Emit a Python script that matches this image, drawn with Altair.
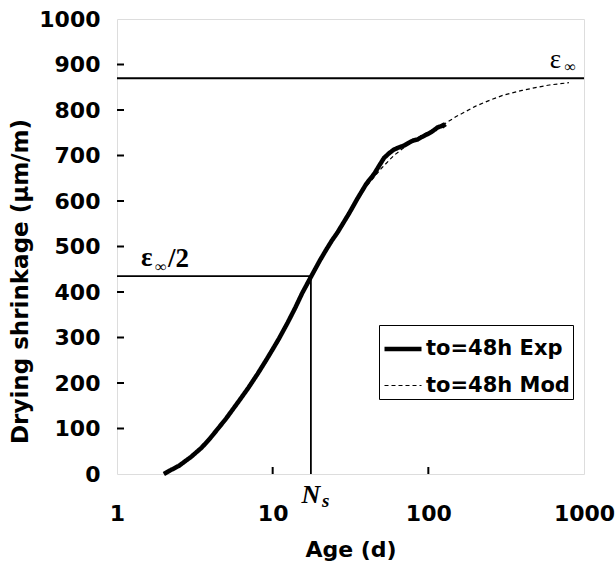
import altair as alt
import pandas as pd

# ---- data ----
exp_t = [2.0, 2.2, 2.5, 3.0, 3.5, 4.0, 5.0, 6.0, 7.0, 8.0, 9.0, 10.0, 11.0, 12.5, 14.0, 15.5,
         17.6, 20.0, 22.0, 24.0, 26.0, 28.0, 31.0, 35.0, 40.0, 45.0, 48.0, 52.0, 56.0, 60.0,
         65.0, 70.0, 75.0, 80.0, 85.0, 90.0, 95.0, 100.0, 105.0, 110.0, 115.0, 120.0, 125.0, 128.0]
exp_v = [0, 8, 18, 38, 58, 80, 121, 158, 190, 220, 248, 274, 298, 333, 366, 398,
         433, 468, 492, 513, 530, 548, 573, 605, 638, 660, 676, 695, 705, 713,
         718, 722, 728, 733, 735, 740, 744, 748, 752, 757, 762, 764, 767, 762]

mod_t = [2.0, 2.5, 3.0, 4.0, 5.0, 6.5, 8.0, 10.0, 12.5, 15.0, 17.6, 20.0, 24.0, 30.0, 40.0,
         50.0, 60.0, 80.0, 100.0, 125.0, 150.0, 200.0, 250.0, 300.0, 400.0, 500.0, 600.0, 800.0]
mod_v = [0, 18, 38, 80, 120, 174, 222, 276, 336, 390, 435, 468, 512, 567, 632,
         672, 700, 733, 752, 768, 785, 808, 822, 832, 843, 850, 855, 860]

series_names = ["to=48h Exp", "to=48h Mod"]
eps_inf = 870
eps_half = 435
Ns = 17.6

x_labels = [1, 10, 100, 1000]
y_labels = list(range(0, 1001, 100))
x_inner_ticks = [10, 100]
y_inner_ticks = list(range(100, 1000, 100))

W, H = 467, 455

df = pd.concat([
    pd.DataFrame({"t": exp_t, "v": exp_v, "s": series_names[0]}),
    pd.DataFrame({"t": mod_t, "v": mod_v, "s": series_names[1]}),
])

xscale = alt.Scale(type="log", domain=[1, 1000], nice=False)
yscale = alt.Scale(domain=[0, 1000], nice=False)

LF = "DejaVu Sans"

xaxis = alt.Axis(values=x_labels, format="d", ticks=False, domain=False, grid=False,
                 labelFont=LF, labelFontSize=22, labelFontWeight="bold", labelColor="black",
                 labelPadding=29, labelFlush=False,
                 title="Age (d)", titleFont=LF, titleFontSize=22, titleFontWeight="bold",
                 titleColor="black", titleY=75, titleBaseline="middle", titleAlign="center",
                 titleX=W / 2)
yaxis = alt.Axis(values=y_labels, format="d", ticks=False, domain=False, grid=False,
                 labelFont=LF, labelFontSize=22, labelFontWeight="bold", labelColor="black",
                 labelPadding=17, labelFlush=False,
                 title="Drying shrinkage (μm/m)", titleFont=LF, titleFontSize=23,
                 titleFontWeight="bold", titleColor="black", titleAlign="center",
                 titleX=-97, titleY=262, titleBaseline="middle", titleAngle=-90)

legend = alt.Legend(title=None, orient="none", legendX=262, legendY=306,
                    strokeColor="black", fillColor="white", padding=3, cornerRadius=0,
                    labelFont=LF, labelFontSize=21, labelFontWeight="bold", labelColor="black",
                    symbolType="stroke", symbolSize=1369, labelOffset=2, rowPadding=7,
                    symbolStrokeColor="black", labelLimit=300)

lines = alt.Chart(df).mark_line().encode(
    x=alt.X("t:Q", scale=xscale, axis=xaxis),
    y=alt.Y("v:Q", scale=yscale, axis=yaxis),
    color=alt.Color("s:N", scale=alt.Scale(domain=series_names, range=["black", "black"]), legend=legend),
    strokeDash=alt.StrokeDash("s:N", scale=alt.Scale(domain=series_names, range=[[1, 0], [4, 3]]), legend=legend),
    strokeWidth=alt.StrokeWidth("s:N", scale=alt.Scale(domain=series_names, range=[4.5, 1.2]), legend=legend),
    order=alt.Order("t:Q"),
)

# reference lines
eps_df = pd.DataFrame({"x": [x_labels[0]], "x2": [x_labels[-1]], "y": [eps_inf]})
eps_line = alt.Chart(eps_df).mark_rule(color="black", strokeWidth=2).encode(
    x=alt.X("x:Q", scale=xscale), x2="x2:Q", y=alt.Y("y:Q", scale=yscale))

half_df = pd.DataFrame({"x": [x_labels[0]], "x2": [Ns], "y": [eps_half]})
half_line = alt.Chart(half_df).mark_rule(color="black", strokeWidth=1.8).encode(
    x=alt.X("x:Q", scale=xscale), x2="x2:Q", y=alt.Y("y:Q", scale=yscale))

ns_df = pd.DataFrame({"x": [Ns], "y": [0], "y2": [eps_half]})
ns_line = alt.Chart(ns_df).mark_rule(color="black", strokeWidth=1.8).encode(
    x=alt.X("x:Q", scale=xscale), y=alt.Y("y:Q", scale=yscale), y2="y2:Q")

# inward ticks
yt = alt.Chart(pd.DataFrame({"y": y_inner_ticks})).mark_rule(color="black", strokeWidth=2).encode(
    y=alt.Y("y:Q", scale=yscale), x=alt.value(0), x2=alt.value(7))
xt = alt.Chart(pd.DataFrame({"x": x_inner_ticks})).mark_rule(color="black", strokeWidth=2).encode(
    x=alt.X("x:Q", scale=xscale), y=alt.value(H), y2=alt.value(H - 7))

SF = "Liberation Serif"

def txt(text, x, y, size, dx, dy, align="left", weight="normal", style="normal"):
    d = pd.DataFrame({"x": [x], "y": [y], "label": [text]})
    return alt.Chart(d).mark_text(font=SF, fontSize=size, fontWeight=weight, fontStyle=style,
                                  align=align, baseline="alphabetic", dx=dx, dy=dy,
                                  color="black").encode(
        x=alt.X("x:Q", scale=xscale), y=alt.Y("y:Q", scale=yscale), text="label:N")

ann = [
    txt("ε", x_labels[-1], eps_inf, 27, -23, -10, align="right"),
    txt("∞", x_labels[-1], eps_inf, 16, -8, -6, align="right"),
    txt("ε", x_labels[0], eps_half, 27, 24, -10, weight="bold"),
    txt("∞", x_labels[0], eps_half, 16, 38, -4, weight="bold"),
    txt("/2", x_labels[0], eps_half, 27, 51, -9, weight="bold"),
    txt("N", Ns, 0, 26, 0, 29, align="center", weight="bold", style="italic"),
    txt("s", Ns, 0, 19, 11, 33, weight="bold", style="italic"),
]

chart = alt.layer(lines, eps_line, half_line, ns_line, yt, xt, *ann).properties(
    width=W, height=H,
    autosize=alt.AutoSizeParams(type="none"),
    padding={"left": 117, "top": 19, "right": 32, "bottom": 94},
).configure_view(stroke="black", strokeWidth=2).configure(background="white")

chart.save("out.html", embed_options={"renderer": "svg", "actions": False})
